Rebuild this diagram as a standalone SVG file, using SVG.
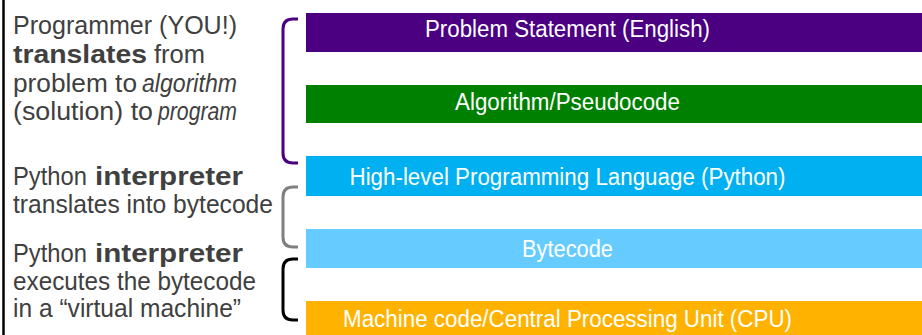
<svg xmlns="http://www.w3.org/2000/svg" width="922" height="335" viewBox="0 0 922 335">
<style>
.bar-text{font-family:"Liberation Sans",Arial,sans-serif;font-size:23.5px;fill:#ffffff;text-anchor:middle}
.note{font-family:"Liberation Sans",Arial,sans-serif;font-size:25px;fill:#404040}
.b{font-weight:bold}
.i{font-style:italic}
.br{fill:none;stroke-width:3;stroke-linecap:butt}
</style>
<rect width="922" height="335" fill="#ffffff"/>
<line x1="3.5" y1="0" x2="3.5" y2="335" stroke="#000" stroke-width="2.5"/>

<g id="note-programmer">
<text class="note" x="13" y="34" textLength="224" lengthAdjust="spacingAndGlyphs">Programmer (YOU!)</text>
<text class="note" y="63"><tspan class="b" x="13" textLength="134" lengthAdjust="spacingAndGlyphs">translates</tspan><tspan x="154" textLength="51" lengthAdjust="spacingAndGlyphs">from</tspan></text>
<text class="note" y="92"><tspan x="13" textLength="124" lengthAdjust="spacingAndGlyphs">problem to</tspan><tspan class="i" x="142" textLength="95" lengthAdjust="spacingAndGlyphs">algorithm</tspan></text>
<text class="note" y="120"><tspan x="13" textLength="140" lengthAdjust="spacingAndGlyphs">(solution) to</tspan><tspan class="i" x="158" textLength="79" lengthAdjust="spacingAndGlyphs">program</tspan></text>
</g>
<g id="note-translate">
<text class="note" y="185"><tspan x="13" textLength="74" lengthAdjust="spacingAndGlyphs">Python</tspan><tspan class="b" x="95" textLength="148" lengthAdjust="spacingAndGlyphs">interpreter</tspan></text>
<text class="note" x="13" y="213" textLength="260" lengthAdjust="spacingAndGlyphs">translates into bytecode</text>
</g>
<g id="note-execute">
<text class="note" y="262"><tspan x="13" textLength="74" lengthAdjust="spacingAndGlyphs">Python</tspan><tspan class="b" x="95" textLength="148" lengthAdjust="spacingAndGlyphs">interpreter</tspan></text>
<text class="note" x="13" y="290" textLength="243" lengthAdjust="spacingAndGlyphs">executes the bytecode</text>
<text class="note" x="13" y="317" textLength="228" lengthAdjust="spacingAndGlyphs">in a “virtual machine”</text>
</g>

<g id="problem">
<rect x="306" y="13" width="616" height="39" fill="#4B0082"/>
<text class="bar-text" x="567.5" y="37" textLength="285" lengthAdjust="spacingAndGlyphs">Problem Statement (English)</text>
</g>
<g id="algorithm">
<rect x="306" y="85" width="616" height="38" fill="#008000"/>
<text class="bar-text" x="567.5" y="110" textLength="225" lengthAdjust="spacingAndGlyphs">Algorithm/Pseudocode</text>
</g>
<g id="python">
<rect x="306" y="156" width="616" height="40" fill="#00B0F0"/>
<text class="bar-text" x="567.5" y="185" textLength="436" lengthAdjust="spacingAndGlyphs">High-level Programming Language (Python)</text>
</g>
<g id="bytecode">
<rect x="306" y="229" width="616" height="39" fill="#66CCFF"/>
<text class="bar-text" x="567.5" y="257" textLength="91" lengthAdjust="spacingAndGlyphs">Bytecode</text>
</g>
<g id="machine">
<rect x="306" y="301" width="616" height="34" fill="#FFB300"/>
<text class="bar-text" x="567.5" y="327" textLength="449" lengthAdjust="spacingAndGlyphs">Machine code/Central Processing Unit (CPU)</text>
</g>

<g id="connectors">
<path class="br" stroke="#4B0082" d="M298,19 H293 Q283,19 283,29 V153 Q283,163 293,163 H298"/>
<path class="br" stroke="#808080" d="M298,187 H293 Q283,187 283,197 V237 Q283,247 293,247 H298"/>
<path class="br" stroke="#000000" d="M298,259 H293 Q283,259 283,269 V310 Q283,320 293,320 H298"/>
</g>
</svg>
